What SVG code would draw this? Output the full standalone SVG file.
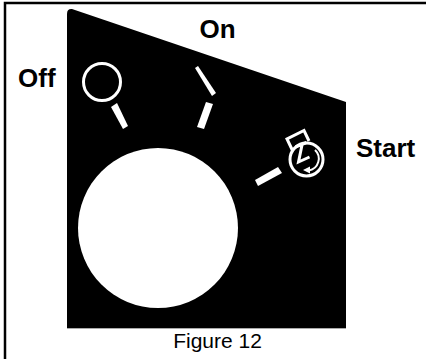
<svg xmlns="http://www.w3.org/2000/svg" width="426" height="359" viewBox="0 0 426 359">
<style>
.l{font-family:"Liberation Sans",Arial,sans-serif;font-weight:bold;font-size:26px;fill:#000}
.w{fill:#fff}
.s{fill:none;stroke:#fff;stroke-width:3}
</style>
<rect width="426" height="359" fill="#fff"/>
<path d="M5 359V3H426" fill="none" stroke="#000" stroke-width="2.500"/>
<path d="M67 14Q67 8.500 72 9L346 102V328H67Z" fill="#000"/>
<path d="M67 328.500H346" stroke="#aaa" stroke-width="1"/>
<circle class="w" cx="158" cy="228" r="80"/>
<circle class="s" cx="102" cy="82" r="18.500"/>
<path class="w" d="M111 107L117 103L128 126L123 129Z"/>
<path class="w" d="M195 68L198 66L216 93L212 96Z"/>
<path class="w" d="M206 102L213 104L204 129L197 127Z"/>
<path class="w" d="M255 180L278 167L282 173L258 186Z"/>
<g class="s">
<circle cx="306.500" cy="159.500" r="16.500"/>
<path d="M292.500 150.500L287 139L304 130.500L309 141"/>
<path d="M295.500 147L306.500 142.500M302 145L298.500 162L309.500 157"/>
<path d="M315 150A12 12 0 0 1 309 170.500" stroke-width="2"/>
</g>
<path class="w" d="M303 170L310 166.500L310 173.500Z"/>
<text class="l" x="18" y="87">Off</text>
<text class="l" x="199.500" y="38">On</text>
<text class="l" x="356" y="157">Start</text>
<text x="217.500" y="348" text-anchor="middle" font-family="'Liberation Sans',Arial,sans-serif" font-size="21" fill="#000">Figure 12</text>
</svg>
